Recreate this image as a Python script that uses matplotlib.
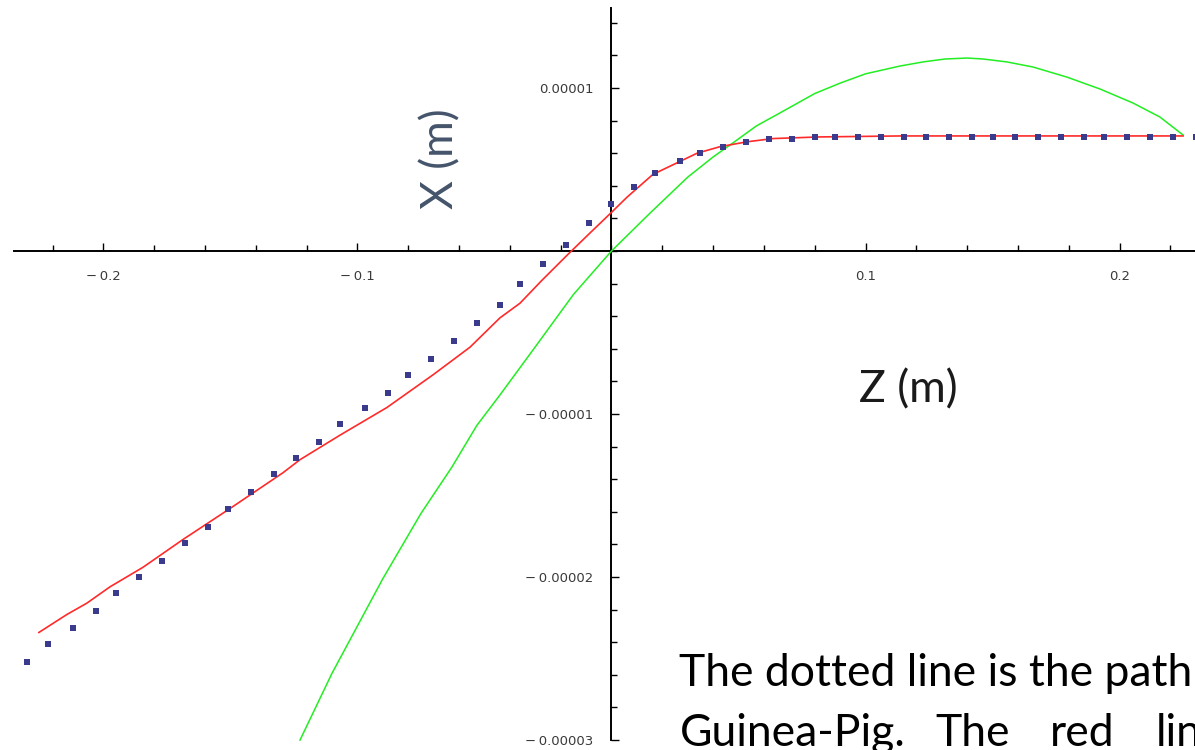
import numpy as np
import matplotlib
matplotlib.use('agg')
import matplotlib.pyplot as plt  # noqa

z_dots = [-0.230, -0.222, -0.212, -0.203, -0.195, -0.186, -0.177, -0.168,
          -0.159, -0.151, -0.142, -0.133, -0.124, -0.115, -0.107, -0.097,
          -0.088, -0.080, -0.071, -0.062, -0.053, -0.044, -0.036, -0.027,
          -0.018, -0.009, 0.000, 0.009, 0.017, 0.027, 0.035, 0.044, 0.053,
          0.062, 0.071, 0.080, 0.088, 0.097, 0.106, 0.115, 0.124, 0.133,
          0.142, 0.150, 0.159, 0.168, 0.177, 0.186, 0.194, 0.203, 0.212,
          0.221, 0.230]
x_dots = [-2.52, -2.41, -2.31, -2.21, -2.10, -2.00, -1.90, -1.79,
          -1.69, -1.58, -1.48, -1.37, -1.27, -1.17, -1.06, -0.96,
          -0.87, -0.76, -0.66, -0.55, -0.44, -0.33, -0.20, -0.08,
          0.04, 0.17, 0.29, 0.39, 0.48, 0.55, 0.60, 0.64, 0.67,
          0.69, 0.69, 0.70, 0.70, 0.70, 0.70, 0.70, 0.70, 0.70,
          0.70, 0.70, 0.70, 0.70, 0.70, 0.70, 0.70, 0.70, 0.70,
          0.70, 0.70]

z_red = [-0.2254, -0.2144, -0.2065, -0.1974, -0.1844, -0.1687, -0.1502,
         -0.1293, -0.1226, -0.1069, -0.0884, -0.0703, -0.0557, -0.0439,
         -0.0360, -0.0274, -0.0171, -0.0085, 0.0002, 0.0061, 0.0163,
         0.0270, 0.0337, 0.0427, 0.0533, 0.0636, 0.082, 0.1136, 0.225]
x_red = [-2.34, -2.23, -2.16, -2.06, -1.94, -1.77, -1.58,
         -1.36, -1.28, -1.13, -0.96, -0.76, -0.59, -0.41,
         -0.32, -0.18, -0.02, 0.11, 0.24, 0.33, 0.47,
         0.55, 0.60, 0.64, 0.67, 0.69, 0.70, 0.706, 0.706]

z_green = [-0.1226, -0.110, -0.100, -0.090, -0.075, -0.0628, -0.0530,
           -0.0439, -0.0309, -0.0150, 0.0, 0.0152, 0.0218, 0.0300, 0.0400,
           0.0478, 0.0570, 0.0663, 0.080, 0.090, 0.100, 0.1136, 0.1226,
           0.1313, 0.1400, 0.1463, 0.1557, 0.1659, 0.1793, 0.1923, 0.2053,
           0.2159, 0.2250]
x_green = [-3.00, -2.59, -2.30, -2.01, -1.61, -1.325, -1.07,
           -0.883, -0.607, -0.267, 0.0, 0.233, 0.331, 0.453, 0.577,
           0.663, 0.767, 0.847, 0.966, 1.03, 1.087, 1.135, 1.160,
           1.178, 1.184, 1.178, 1.160, 1.129, 1.067, 0.994, 0.908,
           0.822, 0.712]

x_ticks = [-0.2, -0.1, 0.1, 0.2]
x_tick_labels = ['\u2212\u20090.2', '\u2212\u20090.1', '0.1', '0.2']
y_ticks = [1e-5, -1e-5, -2e-5, -3e-5]
y_tick_labels = ['0.00001', '\u2212\u20090.00001', '\u2212\u20090.00002',
                 '\u2212\u20090.00003']

SCALE = 1e-5
W, H = 1195, 750

fig = plt.figure(figsize=(W / 100, H / 100), dpi=100)
ax = fig.add_axes([0, 0, 1, 1])
ax.set_xlim(-0.2407, 0.2297)
ax.set_ylim(-3.061e-5, 1.540e-5)

ax.plot(z_green, np.array(x_green) * SCALE, color='#22ee22', lw=1.1,
        zorder=3)
ax.plot(z_red, np.array(x_red) * SCALE, color='#ff2a2a', lw=1.2, zorder=4)
ax.plot(z_dots, np.array(x_dots) * SCALE, ls='none', marker='s', ms=4.2,
        mew=0, color='#3b3b8e', zorder=5)

# axes drawn through the origin, ticks pointing into the plot
for side in ['top', 'right']:
    ax.spines[side].set_visible(False)
ax.spines['left'].set_position(('data', 0))
ax.spines['bottom'].set_position(('data', 0))
ax.spines['left'].set_bounds(-3e-5, 1.49e-5)
ax.spines['bottom'].set_bounds(-0.235, 0.2297)
for side in ['left', 'bottom']:
    ax.spines[side].set_linewidth(1.4)
    ax.spines[side].set_zorder(2)

ax.set_xticks(x_ticks, labels=x_tick_labels)
ax.set_xticks(np.arange(-0.22, 0.23, 0.02), minor=True)
ax.set_yticks(y_ticks, labels=y_tick_labels)
ax.set_yticks(np.arange(-3.0, 1.41, 0.2) * SCALE, minor=True)

ax.tick_params(which='both', direction='in', color='black', width=1.0)
ax.tick_params(which='major', length=5.5)
ax.tick_params(which='minor', length=4)
ax.tick_params(axis='x', which='major', pad=14, labelsize=9.5,
               labelcolor='#3a3a3a')
ax.tick_params(axis='y', which='major', pad=13, labelsize=9.5,
               labelcolor='#3a3a3a')


def px(x, y):
    return x / W, 1 - y / H


fig.text(*px(441, 159), 'X (m)', rotation=90, ha='center', va='center',
         family='Lato', fontsize=32, color='#44546a')
fig.text(*px(908, 390), 'Z (m)', ha='center', va='center',
         family='Lato', fontsize=32, color='#1a1a1a')

fig.text(*px(679, 686), 'The dotted line is the path',
         ha='left', va='baseline', family='Lato', fontsize=32, color='black')
# justified second line: words spread across the text box
line2 = [('Guinea-Pig.', 680), ('The', 935), ('red', 1050), ('line', 1156)]
for word, x0 in line2:
    fig.text(*px(x0, 746), word, ha='left', va='baseline', family='Lato',
             fontsize=32, color='black')

fig.savefig('out.png', dpi=100)
